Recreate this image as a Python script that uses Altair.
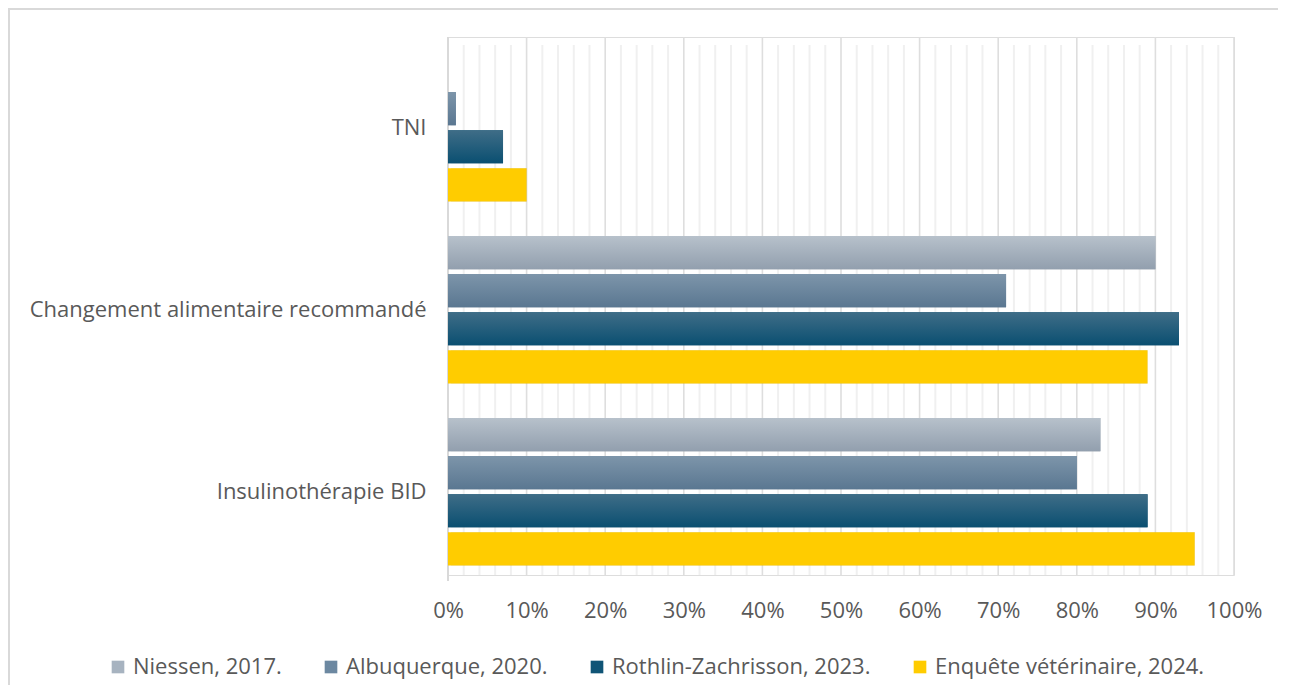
import altair as alt
import pandas as pd

categories = ["TNI", "Changement alimentaire recommandé", "Insulinothérapie BID"]
series = ["Niessen, 2017.", "Albuquerque, 2020.", "Rothlin-Zachrisson, 2023.", "Enquête vétérinaire, 2024."]
niessen = [None, 90, 83]
albuquerque = [1, 71, 80]
rothlin = [7, 93, 89]
enquete = [10, 89, 95]
major_ticks = [0, 10, 20, 30, 40, 50, 60, 70, 80, 90, 100]
minor_grid = [v for v in range(2, 100, 2) if v % 10 != 0]

solid = ["#a7b3c0", "#6c88a1", "#0f5476", "#ffcc00"]
grads = [("#b7c1cb", "#929fae"), ("#7d95aa", "#5a7791"), ("#3f6d87", "#0a4f71")]

rows = []
for s, vals in zip(series, [niessen, albuquerque, rothlin, enquete]):
    for c, v in zip(categories, vals):
        if v is not None:
            rows.append({"cat": c, "series": s, "value": v})
df = pd.DataFrame(rows)

W, H = 786, 538
FONT = "Open Sans"
FS = 22

xscale = alt.Scale(domain=[0, 100], nice=False, zero=True)
yscale = alt.Scale(domain=categories, paddingInner=0.19, paddingOuter=0.073, align=0.64)
yoff = alt.Scale(domain=series, paddingInner=0.13, paddingOuter=0)

minor = alt.Chart(pd.DataFrame({"v": minor_grid})).mark_rule(
    color="#f0f0f0", strokeWidth=2
).encode(x=alt.X("v:Q", scale=xscale), y=alt.value(8), y2=alt.value(H))

major = alt.Chart(pd.DataFrame({"v": major_ticks[1:]})).mark_rule(
    color="#dedede", strokeWidth=1.6
).encode(x=alt.X("v:Q", scale=xscale), y=alt.value(0), y2=alt.value(H))

yaxisline = alt.Chart(pd.DataFrame({"v": [0]})).mark_rule(
    color="#d9d9d9", strokeWidth=2
).encode(x=alt.X("v:Q", scale=xscale), y=alt.value(0), y2=alt.value(H + 6))

frame_top = alt.Chart(pd.DataFrame({"v": [0]})).mark_rule(
    color="#d9d9d9", strokeWidth=2
).encode(x=alt.value(-440), x2=alt.value(W + 44), y=alt.value(-28))

frame_left = alt.Chart(pd.DataFrame({"v": [0]})).mark_rule(
    color="#d9d9d9", strokeWidth=2
).encode(x=alt.value(-439), y=alt.value(-29), y2=alt.value(H + 150))

enc_common = dict(
    y=alt.Y("cat:N", scale=yscale, sort=categories,
            axis=alt.Axis(title=None, domain=False, ticks=False, labelPadding=22,
                          labelFontSize=FS, labelColor="#595959", labelFont=FONT,
                          labelLimit=600)),
    yOffset=alt.YOffset("series:N", scale=yoff, sort=series),
)

shadow = alt.Chart(df).mark_bar(color="#000000", opacity=0.15, x2Offset=3, y2Offset=3).encode(
    x=alt.X("value:Q", scale=xscale), x2=alt.datum(0), **enc_common
)

base = alt.Chart(df).mark_bar().encode(
    x=alt.X("value:Q", scale=xscale,
            axis=alt.Axis(title=None, values=major_ticks, labelExpr="datum.value + '%'",
                          domain=False, ticks=False, grid=False, labelPadding=25,
                          labelFlush=False,
                          labelFontSize=FS, labelColor="#595959", labelFont=FONT)),
    color=alt.Color("series:N", scale=alt.Scale(domain=series, range=solid), sort=series,
                    legend=alt.Legend(title=None, orient="none", legendX=-341, legendY=619,
                                      direction="horizontal", columns=4, columnPadding=38,
                                      symbolType="square", symbolSize=160, symbolStrokeWidth=0,
                                      labelFontSize=FS, labelColor="#595959", labelFont=FONT,
                                      labelOffset=4, labelLimit=500)),
    **enc_common
)

grad_layers = []
for s, (top, bot) in zip(series[:3], grads):
    grad_layers.append(
        alt.Chart(df).transform_filter(alt.datum.series == s).mark_bar(
            color=alt.Gradient(gradient="linear",
                               stops=[alt.GradientStop(color=top, offset=0),
                                      alt.GradientStop(color=bot, offset=1)],
                               x1=0, x2=0, y1=0, y2=1)
        ).encode(x=alt.X("value:Q", scale=xscale), **enc_common)
    )

chart = alt.layer(frame_top, frame_left, minor, major, yaxisline, shadow, base, *grad_layers).properties(
    width=W, height=H,
    padding={"left": 440, "top": 29, "right": 44, "bottom": 110},
    autosize=alt.AutoSizeParams(type="none"),
).configure_view(stroke=None).configure(font=FONT)

chart.save("out.html", embed_options={"renderer": "svg", "actions": False})
